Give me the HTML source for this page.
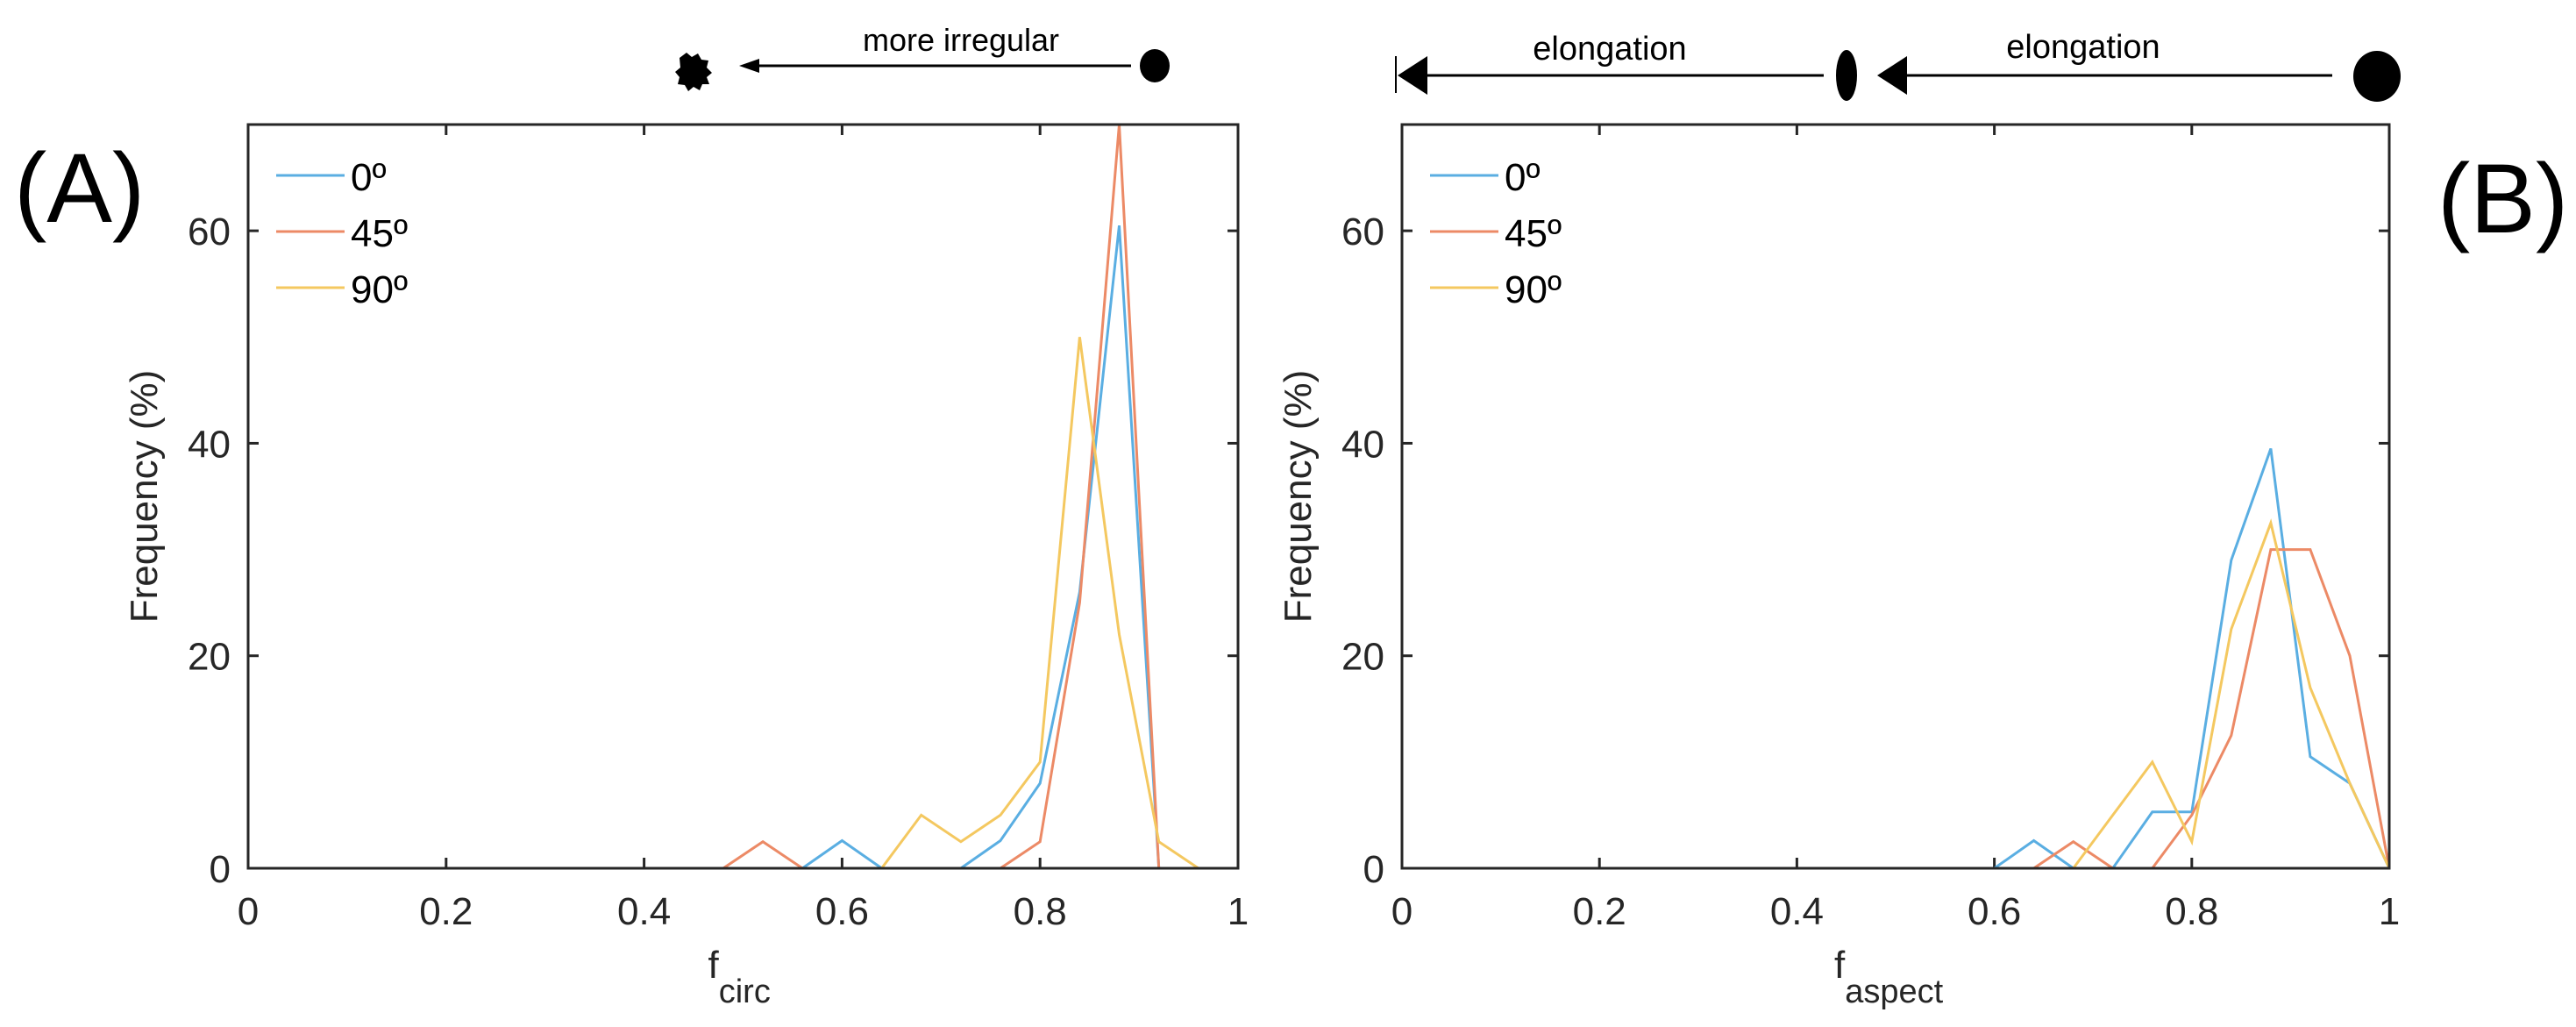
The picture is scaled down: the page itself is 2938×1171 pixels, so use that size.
<!DOCTYPE html>
<html><head><meta charset="utf-8"><style>
html,body{margin:0;padding:0;background:#fff;}
svg{display:block;font-family:"Liberation Sans",Arial,sans-serif;}
</style></head><body>
<svg id="fig" width="2938" height="1171" viewBox="0 0 2938 1171" xmlns="http://www.w3.org/2000/svg">
  <!-- panel labels -->
  <text x="16" y="253" font-size="112" fill="#000">(A)</text>
  <text x="2780" y="265" font-size="112" fill="#000">(B)</text>
  <!-- annotation A -->
  <g>
    <path d="M775,66 l8,-6 l6,5 l7,-4 l4,7 l8,1 l-2,8 l6,6 l-6,5 l3,8 l-8,0 l-3,7 l-7,-4 l-6,5 l-4,-7 l-8,-1 l2,-8 l-5,-6 l6,-5 z" fill="#000"/>
    <line x1="860" y1="75" x2="1290" y2="75" stroke="#000" stroke-width="3"/>
    <polygon points="843,75 866,67 866,83" fill="#000"/>
    <text x="1096" y="58" font-size="36" text-anchor="middle" fill="#000">more irregular</text>
    <ellipse cx="1317" cy="75" rx="17" ry="19" fill="#000"/>
  </g>
  <!-- annotation B -->
  <g>
    <line x1="1592" y1="64" x2="1592" y2="106" stroke="#000" stroke-width="2"/>
    <polygon points="1594,86 1628,64 1628,108" fill="#000"/>
    <line x1="1625" y1="86" x2="2080" y2="86" stroke="#000" stroke-width="3"/>
    <text x="1836" y="68" font-size="38" text-anchor="middle" fill="#000">elongation</text>
    <ellipse cx="2106" cy="86" rx="12" ry="29" fill="#000"/>
    <polygon points="2141,86 2175,64 2175,108" fill="#000"/>
    <line x1="2172" y1="86" x2="2660" y2="86" stroke="#000" stroke-width="3"/>
    <text x="2376" y="66" font-size="38" text-anchor="middle" fill="#000">elongation</text>
    <ellipse cx="2711" cy="87" rx="27" ry="29" fill="#000"/>
  </g>
  <g id="panelA"></g>
  <g id="panelB"></g>
</svg>
<script>
const xBins = [0,0.04,0.08,0.12,0.16,0.2,0.24,0.28,0.32,0.36,0.4,0.44,0.48,0.52,0.56,0.6,0.64,0.68,0.72,0.76,0.8,0.84,0.88,0.92,0.96,1];
const seriesNames = ["0º","45º","90º"];
const xTickLabels = ["0","0.2","0.4","0.6","0.8","1"];
const yTickLabels = ["0","20","40","60"];
const circ0  = [0,0,0,0,0,0,0,0,0,0,0,0,0,0,0,2.6,0,0,0,2.6,8,26,60.5,0,0,0];
const circ45 = [0,0,0,0,0,0,0,0,0,0,0,0,0,2.5,0,0,0,0,0,0,2.5,25,70,0,0,0];
const circ90 = [0,0,0,0,0,0,0,0,0,0,0,0,0,0,0,0,0,5,2.5,5,10,50,22,2.5,0,0];
const asp0  = [0,0,0,0,0,0,0,0,0,0,0,0,0,0,0,0,2.6,0,0,5.3,5.3,29,39.5,10.5,8,0];
const asp45 = [0,0,0,0,0,0,0,0,0,0,0,0,0,0,0,0,0,2.5,0,0,5,12.5,30,30,20,0];
const asp90 = [0,0,0,0,0,0,0,0,0,0,0,0,0,0,0,0,0,0,5,10,2.5,22.5,32.5,17,8,0];

const NS = "http://www.w3.org/2000/svg";
const colors = ["#5aaee2","#ec8a66","#f4c860"];
function mk(tag, attrs, parent){
  const e = document.createElementNS(NS, tag);
  for (const k in attrs) e.setAttribute(k, attrs[k]);
  parent.appendChild(e);
  return e;
}
function drawPanel(g, left, right, top, bottom, series, xSub, prefix){
  const xs = v => left + v*(right-left);
  const ys = v => bottom - v/70*(bottom-top);
  // ticks
  xTickLabels.forEach(t => {
    const x = xs(parseFloat(t));
    const tk = mk("line",{x1:x,y1:bottom,x2:x,y2:bottom-12,stroke:"#262626","stroke-width":3},g);
    
    
    const tk2 = mk("line",{x1:x,y1:top,x2:x,y2:top+12,stroke:"#262626","stroke-width":3},g);
    
    
    const tl = mk("text",{x:x,y:bottom+64,"font-size":44,"text-anchor":"middle",fill:"#262626"},g);
    tl.textContent = t;
    
    
  });
  yTickLabels.forEach(t => {
    const y = ys(parseFloat(t));
    const tk = mk("line",{x1:left,y1:y,x2:left+12,y2:y,stroke:"#262626","stroke-width":3},g);
    
    
    const tk2 = mk("line",{x1:right,y1:y,x2:right-12,y2:y,stroke:"#262626","stroke-width":3},g);
    
    
    const tl = mk("text",{x:left-20,y:y+16,"font-size":44,"text-anchor":"end",fill:"#262626"},g);
    tl.textContent = t;
    
    
  });
  // series
  series.forEach((vals, i) => {
    const pts = vals.map((v, j) => xs(xBins[j]).toFixed(1) + "," + ys(v).toFixed(1)).join(" ");
    const pl = mk("polyline",{points:pts,fill:"none",stroke:colors[i],"stroke-width":3,"stroke-linejoin":"miter"},g);
    
    
  });
  // axes box
  const box = mk("rect",{x:left,y:top,width:right-left,height:bottom-top,fill:"none",stroke:"#262626","stroke-width":3},g);
  
  
  // legend
  seriesNames.forEach((n, i) => {
    const y = top + 58 + i*64;
    const ll = mk("line",{x1:left+32,y1:y,x2:left+110,y2:y,stroke:colors[i],"stroke-width":3},g);
    
    
    const lt = mk("text",{x:left+117,y:y+17,"font-size":44,fill:"#000"},g);
    lt.textContent = n;
    
    
  });
  // y title
  const cy = (top+bottom)/2;
  const yt = mk("text",{x:0,y:0,"font-size":44,"text-anchor":"middle",fill:"#262626",transform:"translate("+(left-104)+","+cy+") rotate(-90)"},g);
  yt.textContent = "Frequency (%)";
  
  
  // x title
  const xt = mk("text",{x:(left+right)/2 - (xSub==="circ"?40:70),y:1115,"font-size":44,fill:"#262626"},g);
  
  
  const f = mk("tspan",{},xt); f.textContent = "f";
  const s = mk("tspan",{dy:28,"font-size":38},xt); s.textContent = xSub;
}
drawPanel(document.getElementById("panelA"), 283, 1412, 142, 990, [circ0,circ45,circ90], "circ", "circ");
drawPanel(document.getElementById("panelB"), 1599, 2725, 142, 990, [asp0,asp45,asp90], "aspect", "aspect");
</script>
</body></html>
